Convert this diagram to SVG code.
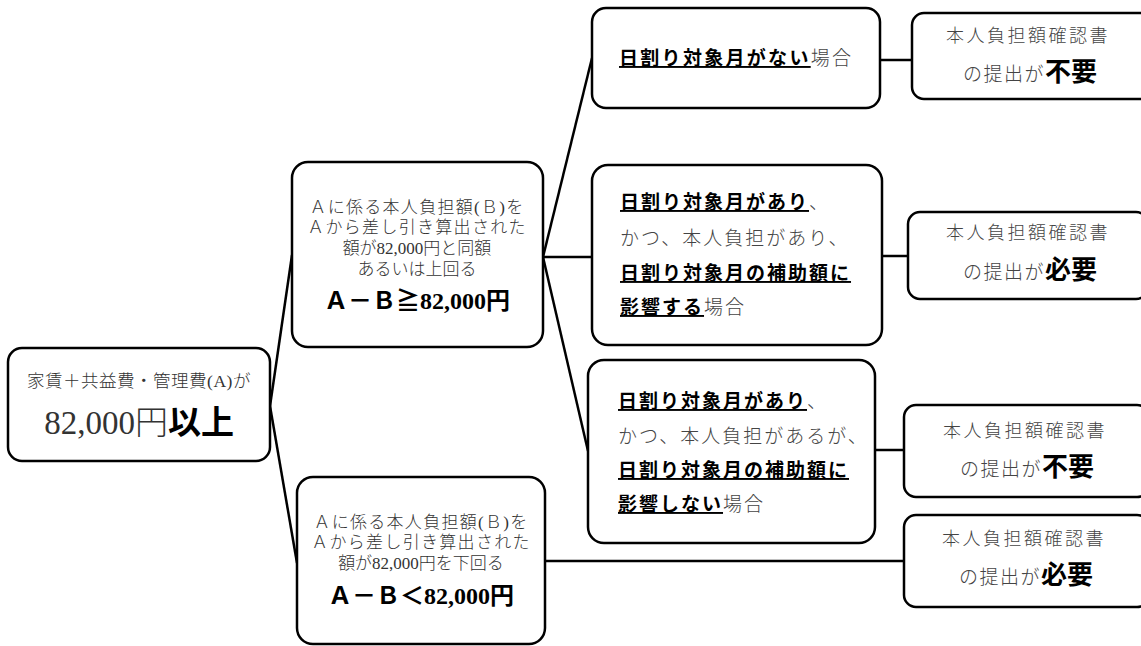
<svg xmlns="http://www.w3.org/2000/svg" width="1141" height="646" viewBox="0 0 1141 646">
<style>
.box{fill:#fff;stroke:#000;stroke-width:2.5}
.conn line{stroke:#000;stroke-width:2.5}
.m{font-family:"Liberation Serif","Noto Sans CJK JP",serif;fill:#333;font-weight:300}
.g{font-family:"Noto Sans CJK JP",sans-serif;fill:#000;font-weight:700}
.r{font-family:"Noto Sans CJK JP",sans-serif;fill:#444;font-weight:300}
.c{text-anchor:middle}
.u{text-decoration:underline}
</style>
<rect width="1141" height="646" fill="#fff"/>
<g id="connectors" class="conn">
<line x1="270" y1="406" x2="292" y2="255"/>
<line x1="270" y1="406" x2="297" y2="563"/>
<line x1="543" y1="257" x2="592" y2="58"/>
<line x1="543" y1="257" x2="592" y2="257"/>
<line x1="543" y1="257" x2="588" y2="451"/>
<line x1="545" y1="561" x2="904" y2="561"/>
<line x1="880" y1="60" x2="912" y2="60"/>
<line x1="882" y1="256" x2="908" y2="256"/>
<line x1="875" y1="450" x2="904" y2="450"/>
</g>
<g id="n1">
<rect class="box" x="8" y="348" width="262" height="113" rx="14"/>
<text class="m c" x="139" y="387" font-size="17.5" letter-spacing="0.5">家賃＋共益費・管理費(A)が</text>
<text class="c" x="139" y="434"><tspan class="m" font-size="33">82,000円</tspan><tspan class="g" font-size="33" font-weight="500">以上</tspan></text>
</g>
<g id="n2">
<rect class="box" x="292" y="162" width="251" height="185" rx="16"/>
<text class="m c" x="417" y="213" font-size="17" letter-spacing="1.3">Ａに係る本人負担額(Ｂ)を</text>
<text class="m c" x="417" y="233" font-size="17" letter-spacing="1.3">Ａから差し引き算出された</text>
<text class="m c" x="417" y="254" font-size="17">額が82,000円と同額</text>
<text class="m c" x="417" y="275" font-size="17">あるいは上回る</text>
<text class="c" x="417" y="309" font-size="24" font-family="Liberation Serif,Noto Sans CJK JP,serif" font-weight="700" fill="#000">Ａ－Ｂ≧82,000円</text>
</g>
<g id="n3">
<rect class="box" x="297" y="477" width="248" height="167" rx="16"/>
<text class="m c" x="421" y="528" font-size="17" letter-spacing="1.3">Ａに係る本人負担額(Ｂ)を</text>
<text class="m c" x="421" y="548" font-size="17" letter-spacing="1.3">Ａから差し引き算出された</text>
<text class="m c" x="421" y="569" font-size="17">額が82,000円を下回る</text>
<text class="c" x="421" y="604" font-size="24" font-family="Liberation Serif,Noto Sans CJK JP,serif" font-weight="700" fill="#000">Ａ－Ｂ＜82,000円</text>
</g>
<g id="n4">
<rect class="box" x="592" y="8" width="288" height="100" rx="14"/>
<text x="619" y="65" font-size="19" letter-spacing="2.3"><tspan class="g u">日割り対象月がない</tspan><tspan class="r">場合</tspan></text>
</g>
<g id="n5">
<rect class="box" x="592" y="165" width="290" height="180" rx="16"/>
<text x="620" y="209" font-size="19" letter-spacing="2"><tspan class="g u">日割り対象月があり</tspan><tspan class="r">、</tspan></text>
<text class="r" x="620" y="245" font-size="19" letter-spacing="2">かつ、本人負担があり、</text>
<text class="g u" x="620" y="280" font-size="19" letter-spacing="2">日割り対象月の補助額に</text>
<text x="620" y="314" font-size="19" letter-spacing="2"><tspan class="g u">影響する</tspan><tspan class="r">場合</tspan></text>
</g>
<g id="n6">
<rect class="box" x="588" y="360" width="287" height="183" rx="16"/>
<text x="618" y="408" font-size="19" letter-spacing="2"><tspan class="g u">日割り対象月があり</tspan><tspan class="r">、</tspan></text>
<text class="r" x="618" y="443" font-size="19" letter-spacing="2">かつ、本人負担があるが、</text>
<text class="g u" x="618" y="477" font-size="19" letter-spacing="2">日割り対象月の補助額に</text>
<text x="618" y="511" font-size="19" letter-spacing="2"><tspan class="g u">影響しない</tspan><tspan class="r">場合</tspan></text>
</g>
<g id="n7">
<rect class="box" x="912" y="13" width="240" height="86" rx="12"/>
<text class="r c" x="1028" y="42" font-size="18" letter-spacing="2.5">本人負担額確認書</text>
<text class="c" x="1030" y="81"><tspan class="r" font-size="19" letter-spacing="1.5">の提出が</tspan><tspan class="g" font-size="26">不要</tspan></text>
</g>
<g id="n8">
<rect class="box" x="908" y="212" width="240" height="87" rx="12"/>
<text class="r c" x="1028" y="239" font-size="18" letter-spacing="2.5">本人負担額確認書</text>
<text class="c" x="1030" y="279"><tspan class="r" font-size="19" letter-spacing="1.5">の提出が</tspan><tspan class="g" font-size="26">必要</tspan></text>
</g>
<g id="n9">
<rect class="box" x="904" y="405" width="245" height="92" rx="12"/>
<text class="r c" x="1025" y="437" font-size="18" letter-spacing="2.5">本人負担額確認書</text>
<text class="c" x="1027" y="476"><tspan class="r" font-size="19" letter-spacing="1.5">の提出が</tspan><tspan class="g" font-size="26">不要</tspan></text>
</g>
<g id="n10">
<rect class="box" x="904" y="515" width="245" height="92" rx="12"/>
<text class="r c" x="1024" y="545" font-size="18" letter-spacing="2.5">本人負担額確認書</text>
<text class="c" x="1026" y="584"><tspan class="r" font-size="19" letter-spacing="1.5">の提出が</tspan><tspan class="g" font-size="26">必要</tspan></text>
</g>
</svg>
